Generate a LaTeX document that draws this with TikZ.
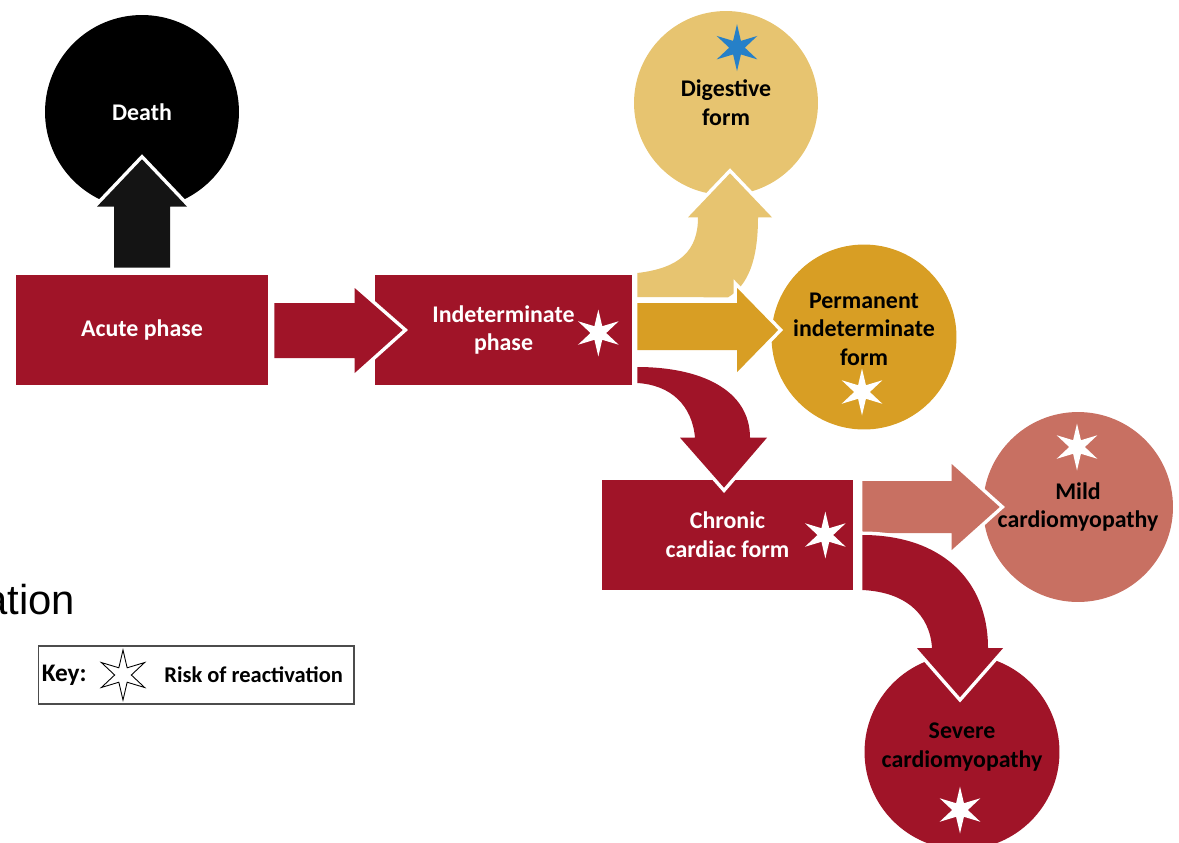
\documentclass[tikz,border=0pt]{standalone}
\usepackage{fontspec}
\setmainfont{Carlito}
\newfontfamily\arialfont{Liberation Sans}
\usetikzlibrary{calc,shapes.geometric}

\definecolor{phasered}{RGB}{160,20,40}
\definecolor{digestyellow}{RGB}{231,196,112}
\definecolor{permorange}{RGB}{216,158,36}
\definecolor{mildpink}{RGB}{200,112,98}
\definecolor{starblue}{RGB}{38,128,200}

\tikzset{
  phasebox/.style={fill=phasered,minimum width=5.04cm,minimum height=2.2cm,inner sep=0pt,align=center,text=white,font=\bfseries\fontsize{13.6}{16.3}\selectfont},
  formcircle/.style={circle,minimum size=3.8cm,inner sep=0pt,align=center,font=\bfseries\fontsize{13.6}{16.3}\selectfont},
  formtext/.style={inner sep=0pt,align=center,font=\bfseries\fontsize{13.6}{16.3}\selectfont},
  fatarrow/.style={preaction={draw=white,line width=4pt}},
  riskstar/.style={star,star points=6,star point ratio=3,minimum size=0.94cm,inner sep=0pt,fill=white},
  keytext/.style={inner sep=0pt,font=\bfseries\fontsize{12.8}{15}\selectfont},
}

\begin{document}
\begin{tikzpicture}[x=0.02cm,y=-0.02cm]
\useasboundingbox (0,0) rectangle (1179,842);
% phases and outcomes
\node[phasebox] (acute) at (142,330) {Acute phase};
\node[phasebox,minimum width=5.14cm] (indet) at (503.5,330) {Indeterminate\\phase};
\node[phasebox,minimum width=5.02cm] (chronic) at (727.5,535) {Chronic\\cardiac form};
\node[formcircle,fill=black,text=white,minimum size=3.88cm] (death) at (142,112) {Death};
\node[formcircle,fill=digestyellow,minimum size=3.68cm] (digest) at (726,103) {Digestive\\form};
\node[formcircle,fill=permorange,minimum size=3.7cm] (perm) at (864,337) {};
\node[formtext] (perm-txt) at ($(perm.center)+(0,-8)$) {Permanent\\indeterminate\\form};
\node[formcircle,fill=mildpink] (mild) at (1078,507) {Mild\\cardiomyopathy};
\node[formcircle,fill=phasered,minimum size=3.9cm] (severe) at (962,752) {};
\node[formtext] (severe-txt) at ($(severe.center)+(0,-5)$) {Severe\\cardiomyopathy};

% block arrows
\fill[fatarrow,black!92] ($(acute.north)+(-28,-7)$) -- ($(acute.north)+(-28,-68)$) -- ($(acute.north)+(-45,-68)$) -- ($(death.south)+(0,-50)$) -- ($(acute.north)+(45,-68)$) -- ($(acute.north)+(28,-68)$) -- ($(acute.north)+(28,-7)$) -- cycle;
\fill[fatarrow,phasered] ($(acute.east)+(6,-27)$) -- ($(indet.west)+(-20,-27)$) -- ($(indet.west)+(-20,-42)$) -- ($(indet.west)+(28,0)$) -- ($(indet.west)+(-20,43)$) -- ($(indet.west)+(-20,28)$) -- ($(acute.east)+(6,28)$) -- cycle;
\fill[fatarrow,digestyellow] ($(indet.east)+(5,-33)$) -- ($(indet.east)+(5,-57)$) .. controls ($(indet.east)+(48,-62)$) and ($(digest.south)+(-28,55)$) .. ($(digest.south)+(-28,22)$) -- ($(digest.south)+(-38,22)$) -- ($(digest.south)+(4,-22)$) -- ($(digest.south)+(46,22)$) -- ($(digest.south)+(32,22)$) .. controls ($(digest.south)+(32,65)$) and ($(digest.south)+(22,90)$) .. ($(digest.south)+(2,102)$) -- cycle;
\fill[fatarrow,phasered] ($(indet.east)+(5,37)$) .. controls ($(indet.east)+(68,37)$) and ($(chronic.north)+(22.5,-90)$) .. ($(chronic.north)+(22.5,-42)$) -- ($(chronic.north)+(39.5,-42)$) -- ($(chronic.north)+(-3.5,8)$) -- ($(chronic.north)+(-47.5,-42)$) -- ($(chronic.north)+(-32.5,-42)$) .. controls ($(chronic.north)+(-35.5,-75)$) and ($(indet.east)+(38,55)$) .. ($(indet.east)+(5,53)$) -- cycle;
\fill[fatarrow,permorange] ($(indet.east)+(5,-27)$) -- ($(perm.west|-indet.east)+(-34,-27)$) -- ($(perm.west|-indet.east)+(-34,-42)$) -- ($(perm.west|-indet.east)+(7,0)$) -- ($(perm.west|-indet.east)+(-34,42)$) -- ($(perm.west|-indet.east)+(-34,20)$) -- ($(indet.east)+(5,20)$) -- cycle;
\fill[fatarrow,mildpink] ($(chronic.east|-mild.west)+(9,-26)$) -- ($(mild.west)+(-31,-26)$) -- ($(mild.west)+(-31,-43)$) -- ($(mild.west)+(17,0)$) -- ($(mild.west)+(-31,43)$) -- ($(mild.west)+(-31,26)$) -- ($(chronic.east|-mild.west)+(9,26)$) -- cycle;
\fill[fatarrow,phasered] ($(chronic.east)+(9,0)$) .. controls ($(chronic.east)+(87,0)$) and ($(severe.north)+(26,-75)$) .. ($(severe.north)+(26,-6)$) -- ($(severe.north)+(41,-6)$) -- ($(severe.north)+(-2,43)$) -- ($(severe.north)+(-45,-6)$) -- ($(severe.north)+(-30,-6)$) .. controls ($(severe.north)+(-32,-40)$) and ($(chronic.east)+(52,57)$) .. ($(chronic.east)+(9,55)$) -- cycle;

% reactivation stars
\node[riskstar] (indet-star) at ($(indet.east)+(-34,3)$) {};
\node[riskstar,fill=starblue] (digest-star) at ($(digest.north)+(11,37)$) {};
\node[riskstar] (perm-star) at ($(perm.center)+(-2,55)$) {};
\node[riskstar] (chronic-star) at ($(chronic.east)+(-28,0)$) {};
\node[riskstar] (mild-star) at ($(mild.center)+(-1,-60)$) {};
\node[riskstar] (severe-star) at ($(severe.center)+(-2,58)$) {};

% key
\node[draw=black!70,line width=0.6pt,minimum width=6.32cm,minimum height=1.16cm,inner sep=0pt] (keybox) at (196,675) {};
\node[keytext,anchor=west,font=\bfseries\fontsize{14.4}{16}\selectfont] (keylbl) at ($(keybox.west)+(4,0)$) {Key:};
\node[riskstar,draw=black,line width=0.5pt,minimum size=1.0cm] (keystar) at (123,675) {};
\node[keytext,anchor=west] (keyrisk) at (164,675) {Risk of reactivation};

\node[anchor=base west,inner sep=0pt,font=\arialfont\fontsize{23.8}{28}\selectfont] (cutoff) at (-16,614) {ation};
\end{tikzpicture}
\end{document}
